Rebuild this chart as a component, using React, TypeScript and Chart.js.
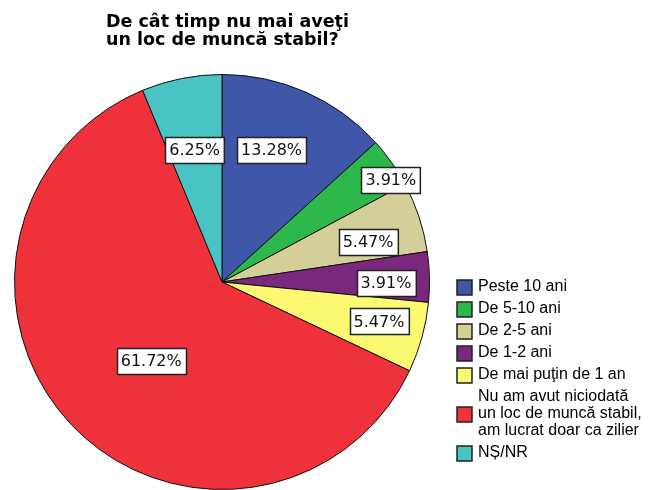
import React, { useEffect, useRef } from "react";
import { Chart, registerables } from "chart.js";

Chart.register(...registerables);

const titleLines = ["De cât timp nu mai aveţi", "un loc de muncă stabil?"];
const categories = [
  "Peste 10 ani",
  "De 5-10 ani",
  "De 2-5 ani",
  "De 1-2 ani",
  "De mai puţin de 1 an",
  "Nu am avut niciodată\nun loc de muncă stabil,\nam lucrat doar ca zilier",
  "NȘ/NR",
];
const values = [13.28, 3.91, 5.47, 3.91, 5.47, 61.72, 6.25];
const colors = ["#3E57A9", "#2EB84B", "#D4CE98", "#7A287D", "#FBF872", "#EF313B", "#49C3C4"];

// label placement within each slice: fraction along slice angle, fraction of radius
const labelAngleFrac = [0.43, 0.79, 0.65, 0.62, 0.43, 0.48, 0.48];
const labelRadiusFrac = [0.68, 0.95, 0.73, 0.79, 0.78, 0.51, 0.65];

const overlayPlugin = {
  id: "overlay",
  afterDatasetsDraw(chart: any) {
    const ctx = chart.ctx;
    const meta = chart.getDatasetMeta(0);
    ctx.save();
    ctx.font = "16px 'DejaVu Sans'";
    ctx.textAlign = "center";
    ctx.textBaseline = "middle";
    meta.data.forEach((arc: any, i: number) => {
      const p = arc.getProps(["x", "y", "startAngle", "endAngle", "outerRadius"], true);
      const a = p.startAngle + (p.endAngle - p.startAngle) * labelAngleFrac[i];
      const r = p.outerRadius * labelRadiusFrac[i];
      const cx = p.x + Math.cos(a) * r;
      const cy = p.y + Math.sin(a) * r;
      const text = values[i].toFixed(2) + "%";
      const w = ctx.measureText(text).width + 8;
      const h = 26;
      const bx = Math.round(cx - w / 2) + 0.5;
      const by = Math.round(cy - h / 2) + 0.5;
      ctx.fillStyle = "#fff";
      ctx.fillRect(bx, by, w, h);
      ctx.strokeStyle = "#222";
      ctx.lineWidth = 1.5;
      ctx.strokeRect(bx, by, w, h);
      ctx.fillStyle = "#111";
      ctx.fillText(text, cx, cy + 1);
    });
    ctx.restore();
  },
  afterDraw(chart: any) {
    const ctx = chart.ctx;
    ctx.save();
    // title
    ctx.fillStyle = "#000";
    ctx.textAlign = "left";
    ctx.textBaseline = "alphabetic";
    ctx.font = "bold 17.5px 'DejaVu Sans'";
    titleLines.forEach((t, i) => ctx.fillText(t, 106, 27 + i * 18));
    // legend
    ctx.font = "16px 'Liberation Sans', Arial";
    ctx.textBaseline = "middle";
    let y = 287;
    const lineH = 17;
    const rowGap = 22;
    categories.forEach((c, i) => {
      const lines = c.split("\n");
      const blockH = (lines.length - 1) * lineH;
      const startY = y;
      const boxCy = startY + blockH / 2;
      ctx.fillStyle = colors[i];
      ctx.fillRect(457, boxCy - 7, 15, 15);
      ctx.strokeStyle = "#222";
      ctx.lineWidth = 1.5;
      ctx.strokeRect(457, boxCy - 7, 15, 15);
      ctx.fillStyle = "#000";
      lines.forEach((l, k) => ctx.fillText(l, 478, startY + k * lineH));
      y = startY + blockH + rowGap;
    });
    ctx.restore();
  },
};

export default function App() {
  const ref = useRef<HTMLCanvasElement | null>(null);
  useEffect(() => {
    if (!ref.current) return;
    const chart = new Chart(ref.current, {
      type: "pie",
      data: {
        labels: categories,
        datasets: [
          {
            data: values,
            backgroundColor: colors,
            borderColor: "#111",
            borderWidth: 1,
          },
        ],
      },
      options: {
        responsive: false,
        animation: false,
        devicePixelRatio: 1,
        layout: { padding: { left: 14, top: 74, right: 228, bottom: 0 } },
        plugins: {
          legend: { display: false },
          title: { display: false },
          tooltip: { enabled: false },
        },
      },
      plugins: [overlayPlugin],
    });
    return () => chart.destroy();
  }, []);
  return (
    <div style={{ position: "absolute", left: 0, top: 0, width: 658, height: 490, background: "#fff" }}>
      <canvas ref={ref} width={658} height={490} />
    </div>
  );
}
